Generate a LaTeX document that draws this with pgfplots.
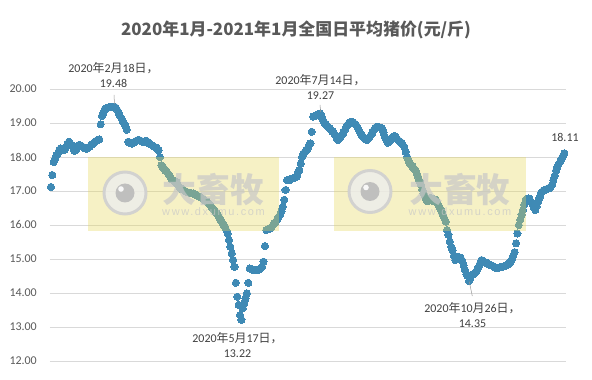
\documentclass[border=0pt]{standalone}
\usepackage{pgfplots}
\pgfplotsset{compat=1.18}
\usepackage{pgfplotstable}
\usepackage{fontspec}
\setmainfont{Carlito}
\newfontfamily\zh{Noto Sans CJK SC}
\newfontfamily\wmfont[LetterSpace=15]{Liberation Sans}
\definecolor{pt}{RGB}{63,138,181}
\definecolor{gridgray}{RGB}{217,217,217}
\definecolor{labgray}{RGB}{89,89,89}
\definecolor{anngray}{RGB}{64,64,64}
\definecolor{wmyellow}{RGB}{230,215,90}
\pgfplotstableread{
v
17.12
17.47
17.85
17.95
18.05
18.10
18.20
18.25
18.20
18.20
18.22
18.30
18.38
18.45
18.40
18.35
18.30
18.18
18.20
18.30
18.35
18.35
18.33
18.30
18.27
18.25
18.25
18.28
18.30
18.35
18.38
18.42
18.45
18.48
18.50
18.52
18.96
19.21
19.30
19.41
19.44
19.45
19.47
19.48
19.46
19.48
19.48
19.45
19.38
19.30
19.20
19.14
19.05
18.99
18.90
18.80
18.45
18.42
18.40
18.40
18.42
18.45
18.48
18.50
18.50
18.48
18.45
18.45
18.45
18.48
18.45
18.40
18.38
18.35
18.33
18.30
18.28
18.25
18.20
18.00
17.76
17.70
17.66
17.60
17.57
17.50
17.45
17.37
17.33
17.30
17.28
17.25
17.18
17.12
17.08
17.05
17.03
17.00
16.98
16.96
16.95
16.94
16.93
16.93
16.90
16.88
16.86
16.85
16.83
16.80
16.77
16.74
16.71
16.69
16.65
16.60
16.55
16.50
16.44
16.40
16.35
16.30
16.22
16.15
16.08
16.00
15.95
15.85
15.75
15.56
15.36
15.17
14.97
14.77
14.30
13.89
13.65
13.35
13.21
13.55
13.70
13.84
13.99
14.30
14.72
14.70
14.68
14.68
14.67
14.68
14.68
14.70
14.73
14.77
14.92
15.38
15.85
15.87
15.88
15.90
15.95
16.00
16.05
16.10
16.17
16.24
16.30
16.40
16.54
16.74
17.03
17.32
17.32
17.32
17.35
17.37
17.38
17.40
17.42
17.55
17.62
17.81
18.00
18.10
18.15
18.20
18.25
18.35
18.40
18.74
19.19
19.20
19.22
19.24
19.26
19.28
19.19
19.10
19.02
18.97
18.92
18.88
18.84
18.80
18.75
18.70
18.65
18.55
18.50
18.55
18.60
18.65
18.72
18.80
18.89
18.95
19.00
19.03
19.04
19.02
18.98
18.94
18.88
18.80
18.72
18.65
18.60
18.55
18.52
18.50
18.55
18.60
18.65
18.72
18.80
18.86
18.89
18.88
18.87
18.86
18.84
18.72
18.60
18.50
18.42
18.45
18.50
18.55
18.60
18.62
18.58
18.52
18.48
18.45
18.42
18.36
18.30
18.15
18.01
17.90
17.81
17.77
17.72
17.66
17.62
17.52
17.42
17.30
17.20
17.05
16.93
16.84
16.74
16.70
16.76
16.80
16.74
16.70
16.75
16.74
16.65
16.57
16.49
16.40
16.29
16.20
16.10
15.85
15.71
15.51
15.36
15.25
15.10
14.97
15.03
15.07
15.05
15.02
14.95
14.82
14.68
14.55
14.50
14.35
14.45
14.53
14.55
14.58
14.62
14.70
14.77
14.88
14.97
14.95
14.92
14.90
14.87
14.85
14.83
14.82
14.80
14.77
14.75
14.73
14.74
14.75
14.76
14.77
14.78
14.80
14.82
14.84
14.87
14.92
15.00
15.10
15.20
15.46
15.75
16.00
16.15
16.30
16.44
16.60
16.74
16.76
16.78
16.75
16.68
16.60
16.50
16.44
16.55
16.69
16.80
16.93
16.98
17.02
17.03
17.05
17.07
17.08
17.12
17.18
17.32
17.45
17.60
17.71
17.80
17.86
17.95
18.03
18.11
}\pricetable

\begin{document}
\begin{tikzpicture}
\useasboundingbox (0,0) rectangle (592bp,380bp);
\begin{axis}[
  at={(50bp,19bp)}, anchor=south west,
  scale only axis, width=516bp, height=272bp,
  xmin=-0.7, xmax=373.2, ymin=12, ymax=20,
  ytick={12,13,...,20}, xtick=\empty,
  axis line style={draw=none}, tick style={draw=none},
  major tick length=0pt,
  ymajorgrids, grid style={color=gridgray, line width=0.75bp},
  yticklabel style={font=\fontsize{12}{14}\selectfont, text=labgray, inner sep=0pt, xshift=-13bp,
    /pgf/number format/fixed, /pgf/number format/fixed zerofill,
    /pgf/number format/precision=2, /pgf/number format/assume math mode=true},
  clip=false,
]
\addplot[only marks, mark=*, mark size=3.6bp, mark options={fill=pt, draw=pt, line width=0pt}]
  table[x expr=\coordindex, y=v]{\pricetable};
\end{axis}
% watermarks
\begin{scope}[x=1bp, y=1bp]
\fill[wmyellow, opacity=0.35] (88,149) rectangle (279,223);
\fill[wmyellow, opacity=0.35] (334,149) rectangle (526,223);
\foreach \cx/\cy/\tx in {125/187/213.5, 370/188.5/460} {
  \fill[white!93!black, opacity=0.8] (\cx,\cy) circle (22);
  \draw[black!20, line width=3bp, opacity=0.8] (\cx,\cy) circle (21);
  \fill[black!28, opacity=0.85] (\cx,\cy) circle (9.5);
  \fill[white, opacity=0.9] (\cx-4,\cy+4) circle (2.8);
  \node[text=black!22, opacity=0.7, font=\zh\bfseries\fontsize{34}{36}\selectfont, inner sep=0pt] at (\tx,190) {大畜牧};
  \node[text=black!22, opacity=0.7, font=\wmfont\fontsize{11}{12}\selectfont, inner sep=0pt] at (\tx,168) {www.dxumu.com};
}
% title
\node[text=labgray, font=\zh\bfseries\fontsize{17}{19}\selectfont] at (296,350) {2020年1月-2021年1月全国日平均猪价(元/斤)};
% annotations
\tikzset{ann/.style={text=anngray, font=\fontsize{12}{16}\selectfont, align=center, inner sep=0pt}}
\node[ann] at (113.5,305) {2020{\zh 年}2{\zh 月}18{\zh 日，}\\19.48};
\draw[black!40, line width=0.5bp] (114,285) -- (114.5,276);
\node[ann] at (237.5,35) {2020{\zh 年}5{\zh 月}17{\zh 日，}\\13.22};
\node[ann] at (320.5,293) {2020{\zh 年}7{\zh 月}14{\zh 日，}\\19.27};
\draw[black!40, line width=0.5bp] (320,275) -- (320.7,268);
\node[ann] at (472.5,65) {2020{\zh 年}10{\zh 月}26{\zh 日，}\\14.35};
\draw[black!40, line width=0.5bp] (469.3,98.3) -- (472.3,84);
\node[ann] at (565,243) {18.11};
\end{scope}
\end{tikzpicture}
\end{document}
